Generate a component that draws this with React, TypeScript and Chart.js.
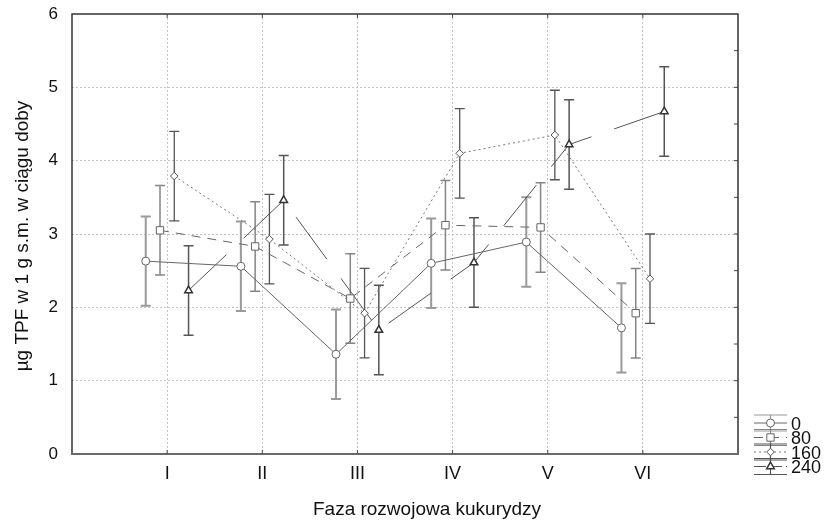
import React, { useEffect, useRef } from 'react';
import { Chart, registerables } from 'chart.js';

Chart.register(...registerables);

// ---- data ----
const categories = ['I', 'II', 'III', 'IV', 'V', 'VI'];
const seriesNames = ['0', '80', '160', '240'];
const values0 = [2.63, 2.56, 1.36, 2.6, 2.89, 1.72];
const values80 = [3.05, 2.83, 2.12, 3.12, 3.09, 1.92];
const values160 = [3.79, 2.93, 1.92, 4.1, 4.35, 2.39];
const values240 = [2.23, 3.46, 1.69, 2.61, 4.22, 4.67];
const err0 = [0.61, 0.61, 0.61, 0.61, 0.61, 0.61];
const err80 = [0.61, 0.61, 0.61, 0.61, 0.61, 0.61];
const err160 = [0.61, 0.61, 0.61, 0.61, 0.61, 0.61];
const err240 = [0.61, 0.61, 0.61, 0.61, 0.61, 0.61];
const yTickValues = [0, 1, 2, 3, 4, 5, 6];
const xTitle = 'Faza rozwojowa kukurydzy';
const yTitle = 'µg TPF w 1 g s.m. w ciągu doby';

const allValues = [values0, values80, values160, values240];
const allErrors = [err0, err80, err160, err240];

// ---- styles ----
const FONT = "'Liberation Sans', Arial, sans-serif";
const offsets = [-0.225, -0.075, 0.075, 0.225];
const styles = [
  { pointStyle: 'circle', radius: 4, lineColor: '#666', dash: [] as number[], errColor: '#9a9a9a', errWidth: 2, ptColor: '#666', ptWidth: 1 },
  { pointStyle: 'rect', radius: 5.2, lineColor: '#666', dash: [9, 7], errColor: '#858585', errWidth: 1.5, ptColor: '#666', ptWidth: 1 },
  { pointStyle: 'rectRot', radius: 3.8, lineColor: '#777', dash: [2, 3], errColor: '#555', errWidth: 1.3, ptColor: '#555', ptWidth: 1 },
  { pointStyle: 'triangle', radius: 4.4, lineColor: '#555', dash: [52, 24], errColor: '#555', errWidth: 1.5, ptColor: '#333', ptWidth: 1.5 },
];

const errorBarPlugin = {
  id: 'errorBars',
  beforeDatasetsDraw(chart: any) {
    const { ctx } = chart;
    const xs = chart.scales.x;
    const ys = chart.scales.y;
    allValues.forEach((vals, i) => {
      const st = styles[i];
      ctx.save();
      ctx.strokeStyle = st.errColor;
      ctx.lineWidth = st.errWidth;
      ctx.setLineDash([]);
      vals.forEach((v, j) => {
        const e = allErrors[i][j];
        const x = xs.getPixelForValue(j + 1 + offsets[i]);
        const y1 = ys.getPixelForValue(v + e);
        const y2 = ys.getPixelForValue(v - e);
        ctx.beginPath();
        ctx.moveTo(x, y1);
        ctx.lineTo(x, y2);
        ctx.moveTo(x - 5, y1);
        ctx.lineTo(x + 5, y1);
        ctx.moveTo(x - 5, y2);
        ctx.lineTo(x + 5, y2);
        ctx.stroke();
      });
      ctx.restore();
    });
  },
};

function drawMarker(ctx: CanvasRenderingContext2D, i: number, x: number, y: number) {
  const st = styles[i];
  ctx.save();
  ctx.setLineDash([]);
  ctx.fillStyle = '#fff';
  ctx.strokeStyle = st.ptColor;
  ctx.lineWidth = st.ptWidth;
  ctx.beginPath();
  const r = st.radius;
  if (st.pointStyle === 'circle') {
    ctx.arc(x, y, r, 0, Math.PI * 2);
  } else if (st.pointStyle === 'rect') {
    const h = r * Math.SQRT1_2;
    ctx.rect(x - h, y - h, 2 * h, 2 * h);
  } else if (st.pointStyle === 'rectRot') {
    ctx.moveTo(x - r, y);
    ctx.lineTo(x, y - r);
    ctx.lineTo(x + r, y);
    ctx.lineTo(x, y + r);
    ctx.closePath();
  } else {
    for (let k = 0; k < 3; k++) {
      const a = (k * 2 * Math.PI) / 3;
      const px = x + Math.sin(a) * r;
      const py = y - Math.cos(a) * r;
      if (k === 0) ctx.moveTo(px, py);
      else ctx.lineTo(px, py);
    }
    ctx.closePath();
  }
  ctx.fill();
  ctx.stroke();
  ctx.restore();
}

const framePlugin = {
  id: 'frameAndText',
  afterDraw(chart: any) {
    const { ctx, chartArea } = chart;
    const { left, right, top, bottom } = chartArea;
    const xs = chart.scales.x;
    const ys = chart.scales.y;
    ctx.save();
    ctx.setLineDash([]);
    // frame
    ctx.strokeStyle = '#333';
    ctx.lineWidth = 1.5;
    ctx.beginPath();
    ctx.moveTo(left, bottom);
    ctx.lineTo(left, top);
    ctx.lineTo(right, top);
    ctx.lineTo(right, bottom);
    ctx.stroke();
    ctx.strokeStyle = '#6a6a6a';
    ctx.lineWidth = 2;
    ctx.beginPath();
    ctx.moveTo(left - 1, bottom);
    ctx.lineTo(right + 1, bottom);
    ctx.stroke();
    // inward ticks
    ctx.strokeStyle = '#444';
    ctx.lineWidth = 1;
    ctx.beginPath();
    for (let k = 1; k <= categories.length; k++) {
      const x = xs.getPixelForValue(k);
      ctx.moveTo(x, top);
      ctx.lineTo(x, top + 4);
      ctx.moveTo(x, bottom);
      ctx.lineTo(x, bottom - 4);
    }
    for (let v = 0.5; v < 6; v += 0.5) {
      const y = ys.getPixelForValue(v);
      ctx.moveTo(right, y);
      ctx.lineTo(right - 4, y);
    }
    ctx.stroke();
    // titles
    ctx.fillStyle = '#111';
    ctx.font = `19px ${FONT}`;
    ctx.textAlign = 'center';
    ctx.textBaseline = 'middle';
    ctx.fillText(xTitle, 427, 510);
    ctx.save();
    ctx.translate(23, 236);
    ctx.rotate(-Math.PI / 2);
    ctx.fillText(yTitle, 0, 0);
    ctx.restore();
    // legend
    const lx0 = 754;
    const lx1 = 787;
    const lxc = (lx0 + lx1) / 2;
    seriesNames.forEach((name, i) => {
      const cy = 423 + i * 14.5;
      const st = styles[i];
      ctx.strokeStyle = st.errColor;
      ctx.lineWidth = 1.2;
      ctx.setLineDash([]);
      ctx.beginPath();
      ctx.moveTo(lx0, cy - 8);
      ctx.lineTo(lx1, cy - 8);
      ctx.moveTo(lx0, cy + 8);
      ctx.lineTo(lx1, cy + 8);
      ctx.moveTo(lxc, cy - 8);
      ctx.lineTo(lxc, cy + 8);
      ctx.stroke();
      ctx.strokeStyle = st.lineColor;
      ctx.lineWidth = 1;
      ctx.setLineDash(st.dash.length && st.dash[0] > 20 ? [12, 4] : st.dash);
      ctx.beginPath();
      ctx.moveTo(lx0, cy);
      ctx.lineTo(lx1, cy);
      ctx.stroke();
      drawMarker(ctx, i, lxc, cy);
      ctx.fillStyle = '#111';
      ctx.font = `18px ${FONT}`;
      ctx.textAlign = 'left';
      ctx.textBaseline = 'middle';
      ctx.fillText(name, 791, cy + 2);
    });
    ctx.restore();
  },
};

export default function App() {
  const ref = useRef<HTMLCanvasElement | null>(null);
  useEffect(() => {
    if (!ref.current) return;
    const datasets = allValues.map((vals, i) => {
      const st = styles[i];
      return {
        label: seriesNames[i],
        data: vals.map((v, j) => ({ x: j + 1 + offsets[i], y: v })),
        showLine: true,
        borderColor: st.lineColor,
        borderWidth: 1,
        borderDash: st.dash,
        backgroundColor: '#fff',
        pointStyle: st.pointStyle,
        pointRadius: st.radius,
        pointBorderColor: st.ptColor,
        pointBorderWidth: st.ptWidth,
        pointBackgroundColor: '#fff',
        tension: 0,
      };
    });
    const chart = new Chart(ref.current, {
      type: 'scatter',
      data: { datasets } as any,
      plugins: [errorBarPlugin, framePlugin],
      options: {
        animation: false,
        responsive: false,
        maintainAspectRatio: false,
        layout: { padding: { top: 14, right: 91, left: 0, bottom: 0 } },
        plugins: { legend: { display: false }, tooltip: { enabled: false } },
        scales: {
          x: {
            type: 'linear',
            min: 0,
            max: 7,
            afterFit: (s: any) => {
              s.height = 70;
              s.paddingLeft = 0;
              s.paddingRight = 0;
            },
            ticks: {
              stepSize: 1,
              autoSkip: false,
              maxRotation: 0,
              padding: 9,
              color: '#111',
              font: { family: FONT, size: 18 },
              callback: (v: any) => categories[Number(v) - 1] ?? '',
            },
            grid: {
              drawTicks: false,
              color: (c: any) => (c.tick && c.tick.value > 0 && c.tick.value < 7 ? '#c4c4c4' : 'rgba(0,0,0,0)'),
              lineWidth: 1,
            },
            border: { display: false, dash: [2, 2] },
          },
          y: {
            type: 'linear',
            min: 0,
            max: 6,
            afterFit: (s: any) => {
              s.width = 72;
              s.paddingTop = 0;
              s.paddingBottom = 0;
            },
            afterBuildTicks: (s: any) => {
              s.ticks = yTickValues.map((v) => ({ value: v }));
            },
            ticks: {
              padding: 14,
              color: '#111',
              font: { family: FONT, size: 17 },
            },
            grid: {
              drawTicks: false,
              color: (c: any) => (c.tick && c.tick.value > 0 && c.tick.value < 6 ? '#c4c4c4' : 'rgba(0,0,0,0)'),
              lineWidth: 1,
            },
            border: { display: false, dash: [2, 2] },
          },
        },
      } as any,
    });
    return () => chart.destroy();
  }, []);
  return (
    <div style={{ position: 'fixed', left: 0, top: 0, width: 829, height: 524, background: '#fff' }}>
      <canvas ref={ref} width={829} height={524} style={{ width: 829, height: 524, display: 'block' }} />
    </div>
  );
}
